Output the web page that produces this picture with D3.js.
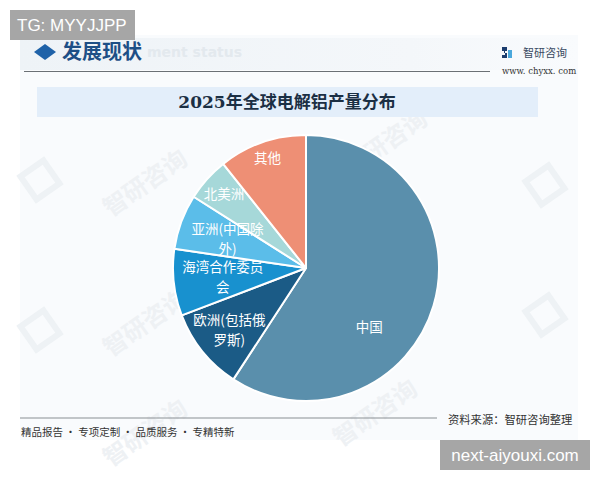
<!DOCTYPE html>
<html><head><meta charset="utf-8">
<script src="https://cdn.jsdelivr.net/npm/d3@7"></script>
<style>html,body{margin:0;padding:0;background:#fff;}svg{display:block;}</style>
</head><body>
<svg id="chart" width="600" height="480"></svg>
<script>
// ---- data ----
const categories = ["中国", "欧洲(包括俄罗斯)", "海湾合作委员会", "亚洲(中国除外)", "北美洲", "其他"];
const shares = [59.2, 10.0, 8.1, 6.7, 5.3, 10.7];
const labelLines = [["中国"], ["欧洲(包括俄", "罗斯)"], ["海湾合作委员", "会"], ["亚洲(中国除", "外)"], ["北美洲"], ["其他"]];
const colors = ["#5a8fac", "#1b5b86", "#1891cf", "#5bbde9", "#a6d8d9", "#ee8f75"];
const chartTitle = "2025年全球电解铝产量分布";
const sectionTitle = "发展现状";
const sourceText = "资料来源：智研咨询整理";
const footerText = "精品报告 · 专项定制 · 品质服务 · 专精特新";

const svg = d3.select("#chart");
const font = "'Noto Sans CJK SC','Noto Sans',sans-serif";

// background panel
svg.append("rect").attr("x",20).attr("y",35).attr("width",558).attr("height",405).attr("fill","#f9fbfd");
const hg = svg.append("defs").append("linearGradient").attr("id","hg").attr("x1",0).attr("x2",1);
hg.append("stop").attr("offset","0%").attr("stop-color","#eef3f7");
hg.append("stop").attr("offset","70%").attr("stop-color","#f4f7fa");
hg.append("stop").attr("offset","100%").attr("stop-color","#f9fbfd");
svg.append("rect").attr("x",20).attr("y",38).attr("width",558).attr("height",32).attr("fill","url(#hg)");

// watermarks
const wm = [[150,190],[150,330],[390,150],[380,420],[150,440]];
wm.forEach(([x,y])=>{
  svg.append("text").attr("transform",`translate(${x},${y}) rotate(-35)`).attr("font-family",font)
    .attr("font-size",24).attr("font-weight","bold").attr("fill","#eef1f4")
    .attr("text-anchor","middle").text("智研咨询");
});
[[545,185],[545,315],[40,180],[40,330]].forEach(([x,y])=>{
  svg.append("rect").attr("x",x-14).attr("y",y-14).attr("width",28).attr("height",28)
    .attr("transform",`rotate(-35,${x},${y})`).attr("fill","none").attr("stroke","#eef2f5").attr("stroke-width",6);
});
svg.append("text").attr("x",147).attr("y",57).attr("font-family","'DejaVu Sans',sans-serif").attr("font-weight","bold")
  .attr("font-size",14).attr("fill","#e3e9ee").text("ment status");

// header
svg.append("path").attr("d","M34,52 L45,44 L56,52 L45,60 Z").attr("fill","#1f62a8");
svg.append("text").attr("x",62).attr("y",59).attr("font-family",font).attr("font-weight","bold")
  .attr("font-size",20).attr("fill","#1d4f86").text(sectionTitle);
svg.append("line").attr("x1",24).attr("x2",490).attr("y1",71.5).attr("y2",71.5).attr("stroke","#6b7075").attr("stroke-width",1.2);
// logo
const lg = svg.append("g").attr("transform","translate(502,47)");
lg.append("path").attr("d","M0,0 H5 V4 H2 V6 H5 V11 H0 V8 H3 V4 H0 Z").attr("fill","#1c3d6e");
lg.append("path").attr("d","M6,3 H10 V11 H6 Z").attr("fill","#4aa8dc");
svg.append("text").attr("x",523).attr("y",57).attr("font-family",font).attr("font-size",11).attr("fill","#3a4b63").text("智研咨询");
svg.append("text").attr("x",502).attr("y",74).attr("font-family","'DejaVu Serif',serif").attr("font-size",8.5).attr("fill","#333").text("www. chyxx. com");

// title band
svg.append("rect").attr("x",37).attr("y",87).attr("width",501).attr("height",30).attr("fill","#e3eefa");
svg.append("text").attr("x",287).attr("y",108).attr("text-anchor","middle").attr("font-family","'DejaVu Serif','Noto Sans CJK SC',serif")
  .attr("font-weight","bold").attr("font-size",17).attr("fill","#1b2f44").text(chartTitle);

// pie
const cx = 306, cy = 268, R = 133;
const data = categories.map((c,i)=>({name:c, value:shares[i], lines:labelLines[i], color:colors[i]}));
const pie = d3.pie().value(d=>d.value).sort(null).startAngle(0).endAngle(2*Math.PI);
const arcs = pie(data);
const arc = d3.arc().innerRadius(0).outerRadius(R);
const g = svg.append("g").attr("transform",`translate(${cx},${cy})`);
g.selectAll("path").data(arcs).join("path").attr("d",arc).attr("fill",d=>d.data.color)
  .attr("stroke","#fff").attr("stroke-width",2).attr("stroke-linejoin","round");

// label placement (best-fit style): radius fraction & angle shift per slice
const labelFrac = [0.65, 0.74, 0.63, 0.63, 0.83, 0.88];
const angleShift = [0.46, 0, 0, 0, 0, 0];
arcs.forEach((a,i)=>{
  const ang = (a.startAngle + a.endAngle)/2 + angleShift[i];
  const r = R*labelFrac[i];
  const x = r*Math.sin(ang), y = -r*Math.cos(ang);
  const n = a.data.lines.length;
  const t = g.append("text").attr("text-anchor","middle").attr("font-family",font)
    .attr("font-size",13.5).attr("fill","#fff");
  a.data.lines.forEach((ln,k)=>{
    t.append("tspan").attr("x",x).attr("y",y + (k-(n-1)/2)*20 + 5).text(ln);
  });
});

// footer
svg.append("line").attr("x1",20).attr("x2",437).attr("y1",418).attr("y2",418).attr("stroke","#8a8f94").attr("stroke-width",1.2);
svg.append("text").attr("x",448).attr("y",424).attr("font-family",font).attr("font-size",11.3).attr("fill","#333").text(sourceText);
svg.append("text").attr("x",21).attr("y",436).attr("font-family",font).attr("font-size",10.5).attr("fill","#333").text(footerText);

// overlay badges
svg.append("rect").attr("x",10).attr("y",10).attr("width",125).attr("height",30).attr("fill","#a6a6a6");
svg.append("text").attr("x",17).attr("y",31).attr("font-family","'Liberation Sans',Arial,sans-serif").attr("font-size",17).attr("fill","#fff").text("TG: MYYJJPP");
svg.append("rect").attr("x",440).attr("y",440).attr("width",150).attr("height",30).attr("fill","#a6a6a6");
svg.append("text").attr("x",515).attr("y",461).attr("text-anchor","middle").attr("font-family","'Liberation Sans',Arial,sans-serif").attr("font-size",17).attr("fill","#fff").text("next-aiyouxi.com");
</script>
</body></html>
